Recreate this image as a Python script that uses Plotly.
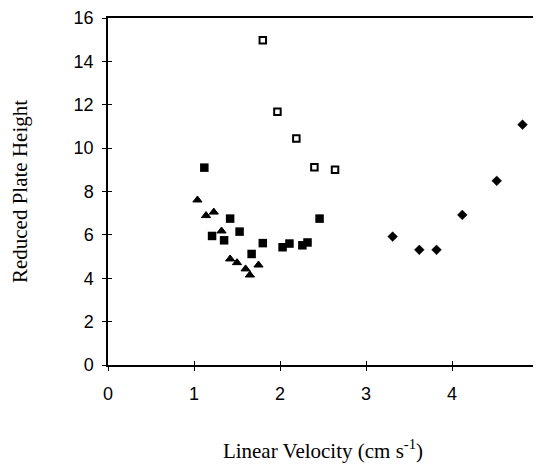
import plotly.graph_objects as go

# Open squares
open_x = [1.80, 1.97, 2.19, 2.40, 2.64]
open_y = [14.97, 11.68, 10.44, 9.12, 9.00]

# Filled squares
sq_x = [1.12, 1.21, 1.35, 1.42, 1.53, 1.67, 1.80, 2.03, 2.11, 2.26, 2.32, 2.46]
sq_y = [9.10, 5.95, 5.75, 6.75, 6.15, 5.12, 5.62, 5.43, 5.60, 5.52, 5.65, 6.75]

# Filled triangles
tri_x = [1.04, 1.14, 1.23, 1.32, 1.42, 1.50, 1.60, 1.65, 1.75]
tri_y = [7.61, 6.89, 7.05, 6.18, 4.89, 4.72, 4.43, 4.15, 4.61]

# Filled diamonds
dia_x = [3.31, 3.62, 3.82, 4.12, 4.52, 4.82]
dia_y = [5.92, 5.31, 5.31, 6.92, 8.49, 11.08]

x_ticks = [0, 1, 2, 3, 4, 5]
y_ticks = [0, 2, 4, 6, 8, 10, 12, 14, 16]

fig = go.Figure()
fig.add_trace(go.Scatter(x=open_x, y=open_y, mode="markers",
                         marker=dict(symbol="square-open", size=6.5, color="black",
                                     line=dict(width=2, color="black")),
                         showlegend=False))
fig.add_trace(go.Scatter(x=sq_x, y=sq_y, mode="markers",
                         marker=dict(symbol="square", size=8.5, color="black"),
                         showlegend=False))
fig.add_trace(go.Scatter(x=tri_x, y=tri_y, mode="markers",
                         marker=dict(symbol="triangle-up", size=8, color="black",
                                     line=dict(width=1, color="black")),
                         showlegend=False))
fig.add_trace(go.Scatter(x=dia_x, y=dia_y, mode="markers",
                         marker=dict(symbol="diamond", size=7.5, color="black",
                                     line=dict(width=0.5, color="black")),
                         showlegend=False))
# empty trace on overlay axes (inner half of the crossing tick marks)
fig.add_trace(go.Scatter(x=[], y=[], xaxis="x2", yaxis="y2", showlegend=False,
                         hoverinfo="skip"))

tickfont = dict(family="Liberation Sans, Arial", size=18, color="black")
titlefont = dict(family="Liberation Serif, Times New Roman", size=21, color="black")

# the page body has an 8px default margin, so margins are offset by 8px
fig.update_layout(
    width=541, height=464,
    margin=dict(l=100, r=11, t=10, b=107),
    paper_bgcolor="white", plot_bgcolor="white",
    font=dict(family="Liberation Sans, Arial", color="black", size=14),
    xaxis=dict(
        range=[0, 5], tickvals=x_ticks, ticks="outside", ticklen=4, tickwidth=1.2,
        tickcolor="black", showline=True, linecolor="black", linewidth=1.5,
        mirror=True, showgrid=False, zeroline=False, ticklabelstandoff=8,
        automargin=False, tickfont=tickfont,
        title=dict(text="Linear Velocity (cm s<sup>-1</sup>)", standoff=40, font=titlefont),
    ),
    yaxis=dict(
        range=[0, 16], tickvals=y_ticks, ticks="outside", ticklen=4, tickwidth=1.2,
        tickcolor="black", showline=True, linecolor="black", linewidth=1.5,
        mirror=True, showgrid=False, zeroline=False, ticklabelstandoff=5,
        automargin=False, tickfont=tickfont,
        title=dict(text="Reduced Plate Height", standoff=48, font=titlefont),
    ),
    xaxis2=dict(overlaying="x", range=[0, 5], tickvals=x_ticks, ticks="inside",
                ticklen=4, tickwidth=1.2, tickcolor="black", showticklabels=False,
                showgrid=False, zeroline=False, showline=False, side="bottom"),
    yaxis2=dict(overlaying="y", range=[0, 16], tickvals=y_ticks, ticks="inside",
                ticklen=4, tickwidth=1.2, tickcolor="black", showticklabels=False,
                showgrid=False, zeroline=False, showline=False, side="left"),
)

fig.write_html("out.html")
